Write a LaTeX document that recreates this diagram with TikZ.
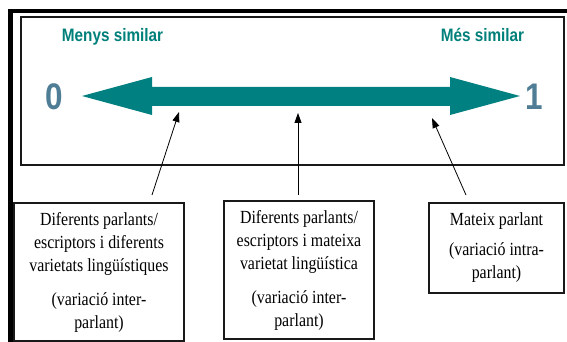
\documentclass[tikz,border=0pt]{standalone}
\usepackage{fontspec}
\setmainfont{Liberation Serif}
\newfontfamily\boxserif[FakeStretch=0.86]{Liberation Serif}
\newfontfamily\labelsans[FakeStretch=0.85]{Liberation Sans}
\usetikzlibrary{arrows.meta}
\definecolor{scaleteal}{RGB}{0,128,128}
\definecolor{labelteal}{RGB}{0,128,122}
\definecolor{digitblue}{RGB}{80,125,150}
\begin{document}
\begin{tikzpicture}[x=1pt,y=-1pt,
  every node/.style={inner sep=0pt, outer sep=0pt},
  heading/.style={font=\labelsans\bfseries\fontsize{18}{20}\selectfont, text=labelteal, anchor=base},
  digit/.style={font=\labelsans\bfseries\fontsize{37}{37}\selectfont, text=digitblue, anchor=base},
  infobox/.style={draw=black!90, line width=1.3pt, align=center, font=\boxserif\fontsize{18.5}{23}\selectfont},
  conn/.style={draw=black, line width=0.8pt, -{Triangle[length=10pt,width=7pt]}},
  frame/.style={line width=4.5pt, draw=black},
  panel/.style={line width=2pt, draw=black!90},
]
\useasboundingbox (0,0) rectangle (567,342);
\fill[white] (0,0) rectangle (567,342);
% outer frame
\draw[frame] (10.3,400) -- (10.3,11.2) -- (600,11.2);
% inner panel
\draw[panel] (21,16.7) rectangle (564,165);
% headings
\node[heading] (less) at (112.5,42) {Menys similar};
\node[heading] (more) at (482.5,42) {Més similar};
% digits
\node[digit] (zero) at (54.5,110) {0};
\node[digit] (one) at (534.5,110) {1};
% double arrow (scale)
\fill[scaleteal] (82,96) -- (152,77) -- (152,87) -- (450,87) -- (450,77) -- (520,96)
  -- (450,115) -- (450,106) -- (152,106) -- (152,115) -- cycle;
% connector end points
\coordinate (t1) at (179,112);
\coordinate (t2) at (298,113);
\coordinate (t3) at (432,118);
\coordinate (s1) at (152,195);
\coordinate (s2) at (298,195);
\coordinate (s3) at (466,195);
% boxes
\node[infobox, minimum width=170pt, minimum height=138pt] (b1) at (99,272)
  {Diferents parlants/\\escriptors i diferents\\varietats lingüístiques\\[11pt](variació inter-\\parlant)};
\node[infobox, minimum width=150pt, minimum height=138pt] (b2) at (299,270)
  {Diferents parlants/\\escriptors i mateixa\\varietat lingüística\\[11pt](variació inter-\\parlant)};
\node[infobox, minimum width=135pt, minimum height=90pt] (b3) at (496.5,248)
  {Mateix parlant\\[7pt](variació intra-\\parlant)};
% connectors
\draw[conn] (s1) -- (t1);
\draw[conn] (s2) -- (t2);
\draw[conn] (s3) -- (t3);
\end{tikzpicture}
\end{document}
